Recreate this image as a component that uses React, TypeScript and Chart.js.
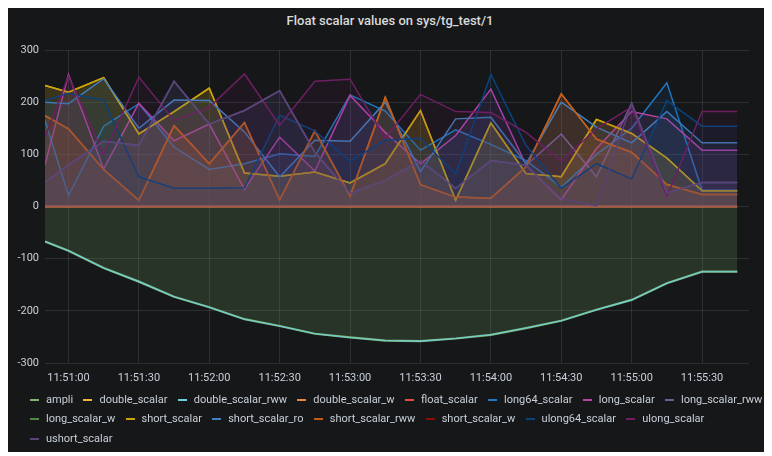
import React, { useEffect, useRef } from "react";
import { Chart, registerables } from "chart.js";

Chart.register(...registerables);

// ---- data ----
const times = [
  "11:50:50", "11:51:00", "11:51:15", "11:51:30", "11:51:45", "11:52:00", "11:52:15",
  "11:52:30", "11:52:45", "11:53:00", "11:53:15", "11:53:30", "11:53:45", "11:54:00",
  "11:54:15", "11:54:30", "11:54:45", "11:55:00", "11:55:15", "11:55:30", "11:55:45",
];
const xRange = ["11:50:50", "11:55:50"];
const tickTimes = [
  "11:51:00", "11:51:30", "11:52:00", "11:52:30", "11:53:00",
  "11:53:30", "11:54:00", "11:54:30", "11:55:00", "11:55:30",
];
const yTicks = [-300, -200, -100, 0, 100, 200, 300];

const ampli = [-67, -85, -118, -144, -173, -193, -216, -229, -244, -251, -257, -258, -253, -246, -233, -219, -198, -179, -147, -125, -125];
const double_scalar = [232, 219, 247, 139, 182, 227, 64, 58, 66, 45, 82, 184, 12, 160, 63, 57, 167, 140, 93, 30, 30];
const double_scalar_rww = [-67, -85, -118, -144, -173, -193, -216, -229, -244, -251, -257, -258, -253, -246, -233, -219, -198, -179, -147, -125, -125];
const double_scalar_w = [174, 149, 71, 12, 155, 82, 161, 13, 145, 20, 209, 42, 18, 16, 76, 216, 129, 104, 42, 23, 23];
const float_scalar = [0, 0, 0, 0, 0, 0, 0, 0, 0, 0, 0, 0, 0, 0, 0, 0, 0, 0, 0, 0, 0];
const long64_scalar = [165, 21, 154, 197, 114, 71, 82, 101, 96, 214, 183, 108, 147, 119, 88, 37, 100, 150, 237, 31, 31];
const long_scalar = [80, 253, 72, 198, 126, 158, 33, 133, 68, 213, 142, 82, 136, 225, 79, 13, 111, 182, 168, 108, 108];
const long_scalar_rww = [46, 80, 125, 117, 240, 158, 184, 222, 104, 25, 50, 88, 35, 88, 79, 139, 57, 198, 26, 46, 46];
const long_scalar_w = [0, 0, 0, 0, 0, 0, 0, 0, 0, 0, 0, 0, 0, 0, 0, 0, 0, 0, 0, 0, 0];
const short_scalar = [232, 219, 247, 139, 182, 227, 64, 58, 66, 45, 82, 184, 12, 160, 63, 57, 167, 140, 93, 30, 30];
const short_scalar_ro = [200, 197, 245, 150, 204, 203, 143, 57, 127, 125, 200, 67, 168, 171, 82, 200, 152, 122, 182, 122, 122];
const short_scalar_rww = [174, 149, 71, 12, 155, 82, 161, 13, 145, 20, 209, 42, 18, 16, 76, 216, 129, 104, 42, 23, 23];
const short_scalar_w = [0, 0, 0, 0, 0, 0, 0, 0, 0, 0, 0, 0, 0, 0, 0, 0, 0, 0, 0, 0, 0];
const ulong64_scalar = [203, 217, 204, 57, 35, 35, 36, 175, 145, 87, 127, 131, 62, 253, 117, 35, 82, 53, 203, 154, 154];
const ulong_scalar = [133, 250, 99, 248, 165, 190, 254, 156, 240, 244, 131, 215, 182, 180, 142, 87, 149, 191, 19, 182, 182];
const ushort_scalar = [46, 80, 125, 117, 240, 158, 184, 222, 104, 25, 50, 88, 35, 88, 79, 15, 1, 198, 26, 46, 46];

const seriesNames = [
  "ampli", "double_scalar", "double_scalar_rww", "double_scalar_w", "float_scalar",
  "long64_scalar", "long_scalar", "long_scalar_rww", "long_scalar_w", "short_scalar",
  "short_scalar_ro", "short_scalar_rww", "short_scalar_w", "ulong64_scalar", "ulong_scalar",
  "ushort_scalar",
];
const seriesValues = [
  ampli, double_scalar, double_scalar_rww, double_scalar_w, float_scalar,
  long64_scalar, long_scalar, long_scalar_rww, long_scalar_w, short_scalar,
  short_scalar_ro, short_scalar_rww, short_scalar_w, ulong64_scalar, ulong_scalar,
  ushort_scalar,
];
const seriesColors = [
  "#7EB26D", "#EAB839", "#6ED0E0", "#EF843C", "#E24D42",
  "#1F78C1", "#BA43A9", "#705DA0", "#508642", "#CCA300",
  "#447EBC", "#C15C17", "#890F02", "#0A437C", "#6D1F62",
  "#584477",
];
const legendRows = [8, 7, 1];

const title = "Float scalar values on sys/tg_test/1";

// ---- helpers ----
const toSec = (t: string) => {
  const [h, m, s] = t.split(":").map(Number);
  return h * 3600 + m * 60 + s;
};
const fmt = (v: number) => {
  const h = Math.floor(v / 3600);
  const m = Math.floor((v % 3600) / 60);
  const s = Math.round(v % 60);
  const p = (n: number) => String(n).padStart(2, "0");
  return `${p(h)}:${p(m)}:${p(s)}`;
};
const rgba = (hex: string, a: number) => {
  const n = parseInt(hex.slice(1), 16);
  return `rgba(${(n >> 16) & 255},${(n >> 8) & 255},${n & 255},${a})`;
};

const BG = "#161719";
const TEXT = "#c7d0d9";
const GRID = "rgba(204,204,220,0.13)";
const FONT = "Roboto, 'Open Sans', sans-serif";

export default function App() {
  const ref = useRef<HTMLCanvasElement | null>(null);

  useEffect(() => {
    document.body.style.overflow = "hidden";
    document.body.style.background = "#ffffff";
    const canvas = ref.current;
    if (!canvas) return;
    const xs = times.map(toSec);
    const n = seriesNames.length;
    const datasets = seriesNames.map((name, i) => {
      const isAmpli = name === "ampli";
      const isRww = name === "double_scalar_rww";
      const isZero = seriesValues[i].every((v) => v === 0);
      return {
        label: name,
        data: seriesValues[i].map((v, k) => ({ x: xs[k], y: v })),
        borderColor: seriesColors[i],
        backgroundColor: rgba(seriesColors[i], isAmpli ? 0.19 : 0.1),
        borderWidth: isAmpli ? 2.2 : isRww ? 1.1 : isZero ? 2 : 1.5,
        fill: isRww ? false : "origin",
        pointRadius: 0,
        tension: 0,
        // zero-valued series drawn first (below the filled areas), red one last among them
        order: isZero ? 100 - (name === "float_scalar" ? 1 : 0) : n - i,
      };
    });
    const chart = new Chart(canvas, {
      type: "line",
      data: { datasets },
      options: {
        animation: false,
        responsive: false,
        devicePixelRatio: 1,
        layout: { padding: { top: 42, right: 23, bottom: 0, left: 0 } },
        plugins: {
          legend: { display: false },
          title: { display: false },
          tooltip: { enabled: false },
        },
        scales: {
          x: {
            type: "linear",
            min: toSec(xRange[0]),
            max: toSec(xRange[1]),
            grid: { color: GRID, drawTicks: false },
            border: { display: false },
            ticks: {
              color: TEXT,
              font: { family: FONT, size: 11 },
              padding: 9,
              maxRotation: 0,
              autoSkip: false,
              callback: (v: any) => fmt(Number(v)),
            },
            afterBuildTicks: (ax: any) => {
              ax.ticks = tickTimes.map((t) => ({ value: toSec(t) }));
            },
            afterFit: (ax: any) => {
              ax.height = 30;
            },
          },
          y: {
            min: -300,
            max: 300,
            grid: { color: GRID, drawTicks: false },
            border: { display: false },
            ticks: {
              color: TEXT,
              font: { family: FONT, size: 11 },
              padding: 6,
            },
            afterBuildTicks: (ax: any) => {
              ax.ticks = yTicks.map((v) => ({ value: v }));
            },
            afterFit: (ax: any) => {
              ax.width = 37;
            },
          },
        },
      },
    } as any);
    return () => chart.destroy();
  }, []);

  let idx = 0;
  const rows = legendRows.map((count) => {
    const items = seriesNames.slice(idx, idx + count).map((name, j) => ({ name, color: seriesColors[idx + j] }));
    idx += count;
    return items;
  });

  return (
    <div
      style={{
        position: "relative",
        width: 764,
        height: 444,
        background: BG,
        overflow: "hidden",
        fontFamily: FONT,
      }}
    >
      <div
        style={{
          position: "absolute",
          top: 5,
          left: 0,
          width: 764,
          textAlign: "center",
          color: "#d8d9da",
          fontSize: 13,
          fontWeight: 500,
          lineHeight: "16px",
        }}
      >
        {title}
      </div>
      <canvas ref={ref} width={764} height={385} style={{ position: "absolute", left: 0, top: 0, width: 764, height: 385 }} />
      <div style={{ position: "absolute", left: 22, top: 382, width: 800 }}>
        {rows.map((items, r) => (
          <div key={r} style={{ display: "flex", height: 19.5, alignItems: "center", whiteSpace: "nowrap" }}>
            {items.map((it) => (
              <div key={it.name} style={{ display: "flex", alignItems: "center", marginRight: 10.3 }}>
                <span style={{ display: "inline-block", width: 9, height: 2, background: it.color, marginRight: 7 }} />
                <span style={{ color: TEXT, fontSize: 11, lineHeight: "14px" }}>{it.name}</span>
              </div>
            ))}
          </div>
        ))}
      </div>
    </div>
  );
}
